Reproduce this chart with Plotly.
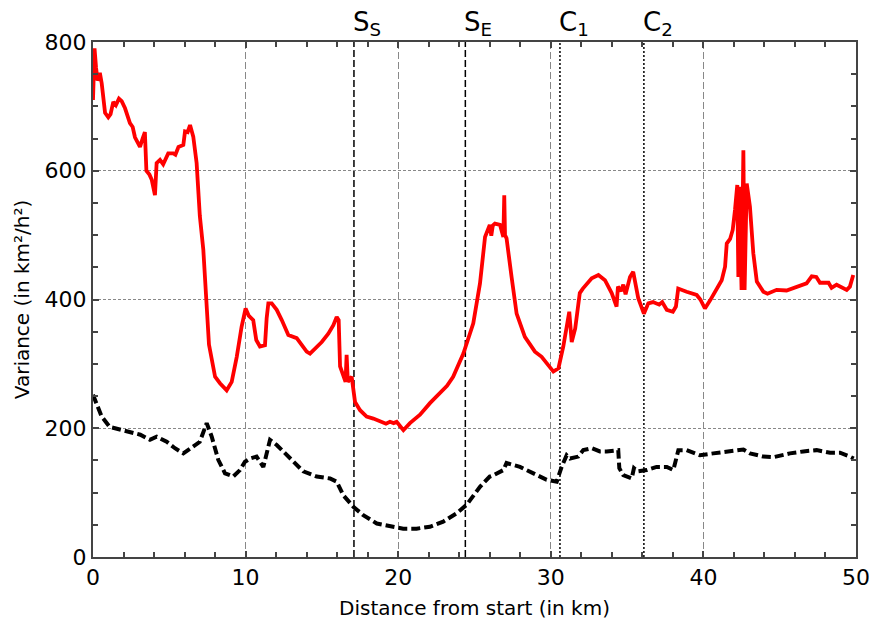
import plotly.graph_objects as go

# Red series: variance (solid)
red_x = [0.0, 0.1, 0.2, 0.3, 0.45, 0.57, 0.79, 1.0, 1.15, 1.33, 1.5, 1.7, 1.88, 2.1, 2.42, 2.6, 2.75,
         3.08, 3.25, 3.4, 3.5, 3.7, 3.85, 4.06, 4.17, 4.39, 4.6, 4.93, 5.26, 5.4, 5.6, 5.92, 6.03, 6.2,
         6.36, 6.57, 6.79, 7.0, 7.23, 7.34, 7.6, 8.0, 8.32, 8.76, 9.09, 9.42, 9.74, 10.0, 10.1, 10.2,
         10.5, 10.7, 10.94, 11.27, 11.38, 11.49, 11.71, 12.04, 12.37, 12.8, 13.35, 13.68, 14.0, 14.22,
         14.55, 14.99, 15.42, 15.75, 15.97, 16.1, 16.19, 16.4, 16.55, 16.62, 16.7, 16.95, 17.17, 17.5,
         17.93, 18.37, 18.92, 19.2, 19.46, 19.7, 19.9, 20.1, 20.34, 20.77, 21.43, 22.08, 22.74, 23.2,
         23.6, 24.27, 24.92, 25.36, 25.69, 26.0, 26.1, 26.2, 26.34, 26.67, 26.89, 26.95, 27.0, 27.1,
         27.43, 27.76, 28.3, 28.96, 29.4, 29.84, 30.17, 30.5, 30.82, 31.21, 31.37, 31.6, 31.9, 32.1,
         32.68, 33.12, 33.55, 33.99, 34.31, 34.4, 34.6, 34.75, 34.9, 35.19, 35.4, 35.73, 36.1, 36.39,
         36.7, 37.1, 37.3, 37.6, 38.0, 38.2, 38.35, 38.9, 39.56, 39.8, 40.1, 40.45, 40.87, 41.2, 41.42,
         41.53, 41.75, 41.92, 42.07, 42.22, 42.29, 42.35, 42.5, 42.62, 42.7, 42.84, 43.05, 43.27, 43.5,
         43.93, 44.2, 44.8, 45.45, 46.1, 46.76, 47.1, 47.4, 47.64, 48.2, 48.4, 48.73, 49.39, 49.6, 49.82]
red_y = [710, 790, 760, 740, 752, 736, 690, 683, 688, 707, 702, 712, 708, 697, 674, 668, 652,
         637, 650, 660, 600, 594, 586, 562, 612, 617, 610, 627, 627, 625, 637, 640, 661, 660,
         671, 653, 612, 530, 477, 430, 330, 280, 270, 259, 272, 311, 358, 386, 380, 375,
         368, 337, 327, 329, 371, 394, 394, 384, 368, 345, 340, 329, 319, 316,
         324, 334, 347, 360, 373, 368, 296, 283, 272, 314, 272, 280, 241, 228,
         218, 215, 210, 207, 210, 208, 210, 205, 197, 208, 221, 239, 256, 266,
         280, 316, 363, 425, 497, 516, 499, 515, 518, 516, 497, 562, 500, 495,
         435, 378, 342, 319, 311, 298, 288, 293, 327, 381, 334, 355, 410, 417,
         433, 438, 430, 410, 389, 420, 413, 423, 408, 435, 443, 402, 378, 394,
         396, 392, 396, 384, 381, 389, 417, 412, 407, 400, 386, 399, 417, 430, 451,
         487, 494, 508, 539, 578, 435, 575, 415, 632, 415, 580, 544, 472, 428,
         412, 409, 415, 414, 420, 425, 436, 435, 426, 426, 418, 423, 415, 420, 438]

# Black series (dashed)
blk_x = [0.0, 0.3, 0.57, 1.1, 2.0, 3.1, 3.73, 4.17, 4.83, 5.37, 5.92, 6.36, 7.0, 7.45, 7.78, 8.21,
         8.65, 9.19, 9.63, 9.96, 10.3, 10.72, 11.16, 11.3, 11.6, 12.04, 12.9, 13.78, 14.66, 15.53,
         15.97, 16.4, 17.06, 17.71, 18.6, 19.46, 20.33, 21.2, 22.08, 22.95, 23.83, 24.48, 25.14,
         25.36, 26.0, 26.23, 26.89, 27.1, 27.98, 28.85, 29.73, 30.39, 30.71, 31.04, 31.26, 31.8,
         32.13, 32.68, 33.22, 33.66, 34.42, 34.49, 34.75, 35.3, 35.45, 35.7, 36.28, 36.93, 37.6,
         38.03, 38.36, 38.9, 39.78, 40.65, 41.96, 42.62, 43.05, 43.93, 44.59, 45.67, 46.55, 47.42,
         48.3, 48.95, 49.6, 49.85]
blk_y = [252, 235, 218, 202, 197, 190, 182, 187, 179, 169, 161, 169, 179, 208, 187, 151,
         130, 125, 135, 148, 153, 156, 140, 153, 182, 174, 153, 133, 125, 122,
         117, 96, 78, 65, 52, 48, 44, 44, 47, 55, 68, 81, 101,
         109, 125, 127, 135, 146, 140, 130, 120, 117, 140, 158, 153, 156,
         166, 169, 164, 164, 166, 138, 127, 122, 138, 133, 135, 140, 140,
         135, 166, 166, 158, 161, 164, 167, 161, 156, 155, 161, 164, 166,
         162, 162, 156, 153]

# Event markers
event_km = [17.1, 24.4, 30.6, 36.1]
event_labels = ["S<sub>S</sub>", "S<sub>E</sub>", "C<sub>1</sub>", "C<sub>2</sub>"]
event_dash = ["7px,3px", "7px,3px", "2px,2px", "2px,2px"]

x_ticks = [0, 10, 20, 30, 40, 50]
y_ticks = [0, 200, 400, 600, 800]

FONT = "Verdana, DejaVu Sans, sans-serif"

fig = go.Figure()
fig.add_trace(go.Scatter(x=blk_x, y=blk_y, mode="lines",
                         line=dict(color="black", width=4, dash="9px,4px"), showlegend=False))
fig.add_trace(go.Scatter(x=red_x, y=red_y, mode="lines",
                         line=dict(color="#ff0000", width=3.8), showlegend=False))

for km, lab, dsh in zip(event_km, event_labels, event_dash):
    fig.add_shape(type="line", xref="x", yref="paper", x0=km, x1=km, y0=0, y1=1,
                  line=dict(color="black", width=1.5, dash=dsh), layer="below")
    fig.add_annotation(x=km, xref="x", y=1, yref="paper", text=lab, showarrow=False,
                       xanchor="left", yanchor="bottom", xshift=-3, yshift=0,
                       font=dict(size=26, color="black", family=FONT))

axis_common = dict(showline=True, linecolor="#444444", linewidth=2, mirror="ticks",
                   ticks="inside", ticklen=6, tickcolor="#444444", tickwidth=1.5,
                   gridcolor="#888888", gridwidth=1, zeroline=False, automargin=False,
                   tickfont=dict(size=22, color="black", family=FONT))

fig.update_xaxes(range=[0, 50], tickvals=x_ticks, showgrid=True, griddash="7px,3px",
                 minor=dict(dtick=2, tick0=0, ticks="inside", ticklen=5, tickcolor="#444444",
                            showgrid=False),
                 title=dict(text="Distance from start (in km)", font=dict(size=20, color="black", family=FONT),
                            standoff=12),
                 **axis_common)
fig.update_yaxes(range=[0, 800], tickvals=y_ticks, showgrid=True, griddash="3px,2px",
                 minor=dict(dtick=50, tick0=0, ticks="inside", ticklen=5, tickcolor="#444444",
                            showgrid=False),
                 title=dict(text="Variance (in km²/h²)", font=dict(size=20, color="black", family=FONT),
                            standoff=10),
                 **axis_common)

fig.update_layout(width=874, height=631, margin=dict(l=93, r=18, t=42, b=74),
                  plot_bgcolor="white", paper_bgcolor="white",
                  font=dict(family=FONT, color="black"))

fig.write_html("out.html")
